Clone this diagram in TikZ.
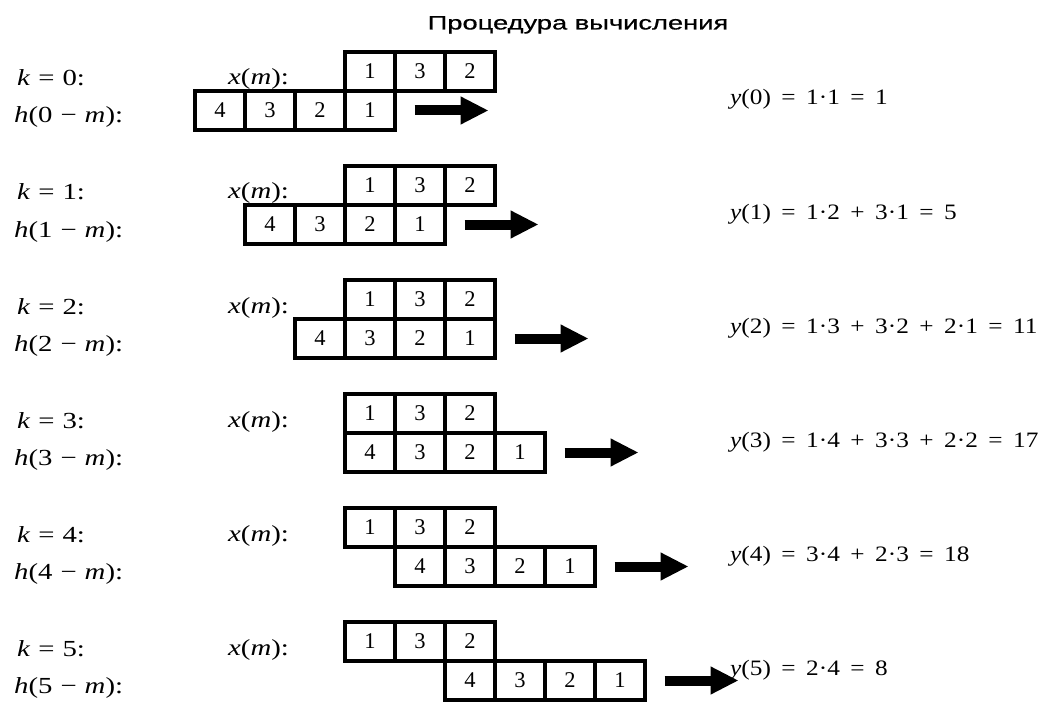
\documentclass[tikz,border=0pt]{standalone}
\usepackage{fontspec}
\setmainfont{Liberation Serif}
\newfontfamily\titlefont[FakeStretch=1.4,FakeBold=0.6]{Liberation Sans}
\newfontfamily\lblfont[FakeStretch=1.25]{Liberation Serif}
\newfontfamily\eqfont[FakeStretch=1.15]{Liberation Serif}
\newfontfamily\cellfont{Liberation Serif}
\newcommand\mylblstyle{\lblfont\fontsize{23}{23}\selectfont\spaceskip=8pt\relax}
\newcommand\myeqstyle{\eqfont\fontsize{22}{22}\selectfont\spaceskip=10.5pt\relax}
\newcommand\mycellstyle{\cellfont\fontsize{22.5}{22.5}\selectfont}
\usetikzlibrary{arrows.meta,calc}
\tikzset{
  cell/.style={draw, line width=3.2pt, minimum width=50pt, minimum height=39pt, inner sep=0pt,
    font=\mycellstyle},
  lbl/.style={anchor=base west, inner sep=0pt, font=\mylblstyle},
  eqn/.style={anchor=base west, inner sep=0pt, font=\myeqstyle},
  bigarrow/.style={line width=10pt, -{Triangle[length=28pt,width=26pt]}},
}
\begin{document}
\begin{tikzpicture}[x=1pt,y=-1pt]
\useasboundingbox (0,0) rectangle (1057,714);
\fill[white] (0,0) rectangle (1057,714);
\node[anchor=base, inner sep=0pt, font=\titlefont\fontsize{19.5}{19.5}\selectfont] (title) at (578,29.5) {Процедура вычисления};
\foreach \k/\res in {0/{1·1 = 1}, 1/{1·2 + 3·1 = 5}, 2/{1·3 + 3·2 + 2·1 = 11}, 3/{1·4 + 3·3 + 2·2 = 17}, 4/{3·4 + 2·3 = 18}, 5/{2·4 = 8}}{
  \pgfmathsetmacro{\t}{52+114*\k}
  \pgfmathsetmacro{\hl}{195+50*\k}
  % labels
  \node[lbl] (k\k) at (17,\t+34) {\textit{k} = \k:};
  \node[lbl] (hl\k) at (14,\t+71) {\textit{h}(\k\ − \textit{m}):};
  \node[lbl] (xl\k) at (228,\t+33) {\textit{x}(\textit{m}):};
  % x cells
  \node[cell] (x\k a) at (370,\t+19.5) {1};
  \node[cell] (x\k b) at (420,\t+19.5) {3};
  \node[cell] (x\k c) at (470,\t+19.5) {2};
  % h cells
  \node[cell] (h\k a) at (\hl+25,\t+58.5) {4};
  \node[cell] (h\k b) at (\hl+75,\t+58.5) {3};
  \node[cell] (h\k c) at (\hl+125,\t+58.5) {2};
  \node[cell] (h\k d) at (\hl+175,\t+58.5) {1};
  % arrow
  \coordinate (as\k) at ($(h\k d.east)+(18,0)$);
  \coordinate (ae\k) at ($(h\k d.east)+(92,0)$);
  \draw[bigarrow] (as\k) -- (ae\k);
  % result
  \node[eqn] (y\k) at (730,\t+53) {\textit{y}(\k) = \res};
}
\end{tikzpicture}
\end{document}
